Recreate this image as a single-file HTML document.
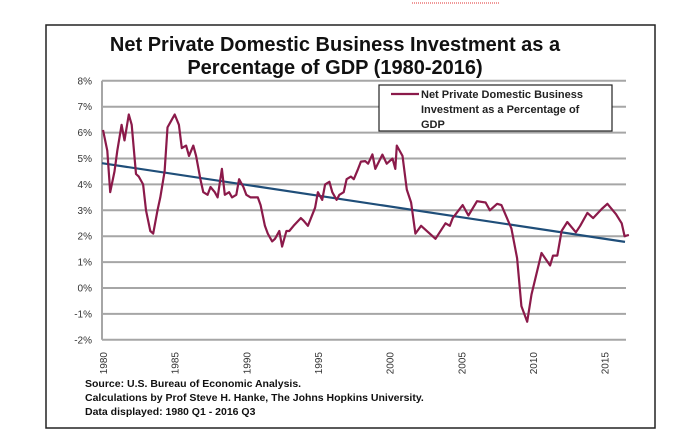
<!DOCTYPE html>
<html><head><meta charset="utf-8"><style>
body{margin:0;background:#fff;width:700px;height:438px;overflow:hidden}
svg{display:block}
text{font-family:"Liberation Sans",sans-serif}
</style></head><body>
<svg id="s" width="700" height="438" xmlns="http://www.w3.org/2000/svg">
<line x1="412" y1="3" x2="500" y2="3" stroke="#e03030" stroke-width="1" stroke-dasharray="1,1"/>
<rect x="46" y="25" width="609" height="403" fill="#fff" stroke="#222" stroke-width="1.5"/>
<text x="335" y="51" text-anchor="middle" font-size="20" font-weight="bold" fill="#111">Net Private Domestic Business Investment as a</text>
<text x="335" y="74" text-anchor="middle" font-size="20" font-weight="bold" fill="#111">Percentage of GDP (1980-2016)</text>
<g id="grid"></g>
<g id="ax" font-size="10" fill="#333"></g>
<polyline id="trend" fill="none" stroke="#1f4e79" stroke-width="2.2"/>
<polyline id="data" fill="none" stroke="#8b1a4a" stroke-width="2.2" stroke-linejoin="round"/>
<rect x="379" y="85" width="233" height="46" fill="#fff" stroke="#222" stroke-width="1.2"/>
<line x1="391" y1="94" x2="419" y2="94" stroke="#8b1a4a" stroke-width="2.2"/>
<text font-size="11" font-weight="bold" fill="#222"><tspan x="421" y="98">Net Private Domestic Business</tspan><tspan x="421" y="113">Investment as a Percentage of</tspan><tspan x="421" y="128">GDP</tspan></text>
<text font-size="10.5" font-weight="bold" fill="#111"><tspan x="85" y="387">Source: U.S. Bureau of Economic Analysis.</tspan><tspan x="85" y="401">Calculations by Prof Steve H. Hanke, The Johns Hopkins University.</tspan><tspan x="85" y="415">Data displayed: 1980 Q1 - 2016 Q3</tspan></text>
</svg>
<script>
var X=function(y){return 103+(y-1980)*14.33},Y=function(v){return 288-v*25.9};
var g=document.getElementById('grid'),a=document.getElementById('ax'),h='',t='';
for(var v=-2;v<=8;v++){h+='<line x1="102" x2="626" y1="'+Y(v)+'" y2="'+Y(v)+'" stroke="#a6a6a6" stroke-width="2"/>';
t+='<text x="92" y="'+(Y(v)+3.5)+'" text-anchor="end">'+v+'%</text>';}
h+='<line x1="102" x2="102" y1="'+Y(8)+'" y2="'+Y(-2)+'" stroke="#a6a6a6" stroke-width="2"/>';
for(var yr=1980;yr<=2015;yr+=5){var x=X(yr);t+='<text transform="translate('+(x+4)+',352) rotate(-90)" text-anchor="end">'+yr+'</text>';}
g.innerHTML=h;a.innerHTML=t;
var d=[[1980,6.1],[1980.3,5.3],[1980.5,3.7],[1980.8,4.5],[1981,5.3],[1981.3,6.3],[1981.5,5.7],[1981.8,6.7],[1982,6.3],[1982.3,4.4],[1982.5,4.3],[1982.8,4.0],[1983,3.0],[1983.3,2.2],[1983.5,2.1],[1983.8,3.0],[1984,3.5],[1984.3,4.5],[1984.5,6.2],[1984.8,6.5],[1985,6.7],[1985.3,6.3],[1985.5,5.4],[1985.8,5.5],[1986,5.1],[1986.3,5.5],[1986.5,5.1],[1986.8,4.2],[1987,3.7],[1987.3,3.6],[1987.5,3.9],[1987.8,3.7],[1988,3.5],[1988.3,4.6],[1988.5,3.6],[1988.8,3.7],[1989,3.5],[1989.3,3.6],[1989.5,4.2],[1989.8,3.9],[1990,3.6],[1990.3,3.5],[1990.8,3.5],[1991,3.2],[1991.3,2.4],[1991.5,2.1],[1991.8,1.8],[1992,1.9],[1992.3,2.2],[1992.5,1.6],[1992.8,2.2],[1993,2.2],[1993.3,2.4],[1993.8,2.7],[1994,2.6],[1994.3,2.4],[1994.8,3.1],[1995,3.7],[1995.3,3.4],[1995.5,4.0],[1995.8,4.1],[1996,3.7],[1996.3,3.4],[1996.5,3.6],[1996.8,3.7],[1997,4.2],[1997.3,4.3],[1997.5,4.2],[1997.8,4.6],[1998,4.88],[1998.3,4.9],[1998.5,4.8],[1998.8,5.16],[1999,4.6],[1999.5,5.15],[1999.8,4.8],[2000.2,5.0],[2000.4,4.6],[2000.5,5.5],[2000.9,5.1],[2001.2,3.8],[2001.5,3.3],[2001.8,2.1],[2002.2,2.4],[2003.2,1.9],[2003.9,2.5],[2004.2,2.4],[2004.4,2.7],[2005.1,3.2],[2005.5,2.8],[2006.1,3.35],[2006.7,3.3],[2007,3.0],[2007.5,3.25],[2007.8,3.2],[2008.5,2.3],[2008.9,1.15],[2009.2,-0.7],[2009.6,-1.3],[2009.9,-0.25],[2010.6,1.35],[2011.2,0.87],[2011.4,1.25],[2011.7,1.25],[2012,2.2],[2012.4,2.55],[2013,2.15],[2013.3,2.4],[2013.8,2.9],[2014.2,2.7],[2014.8,3.05],[2015.2,3.25],[2015.8,2.85],[2016.2,2.5],[2016.4,2.0],[2016.7,2.05]];
document.getElementById('data').setAttribute('points',d.map(function(p){return X(p[0]).toFixed(1)+','+Y(p[1]).toFixed(1)}).join(' '));
document.getElementById('trend').setAttribute('points','102,'+Y(4.82)+' 625,'+Y(1.78));
</script>
</body></html>
